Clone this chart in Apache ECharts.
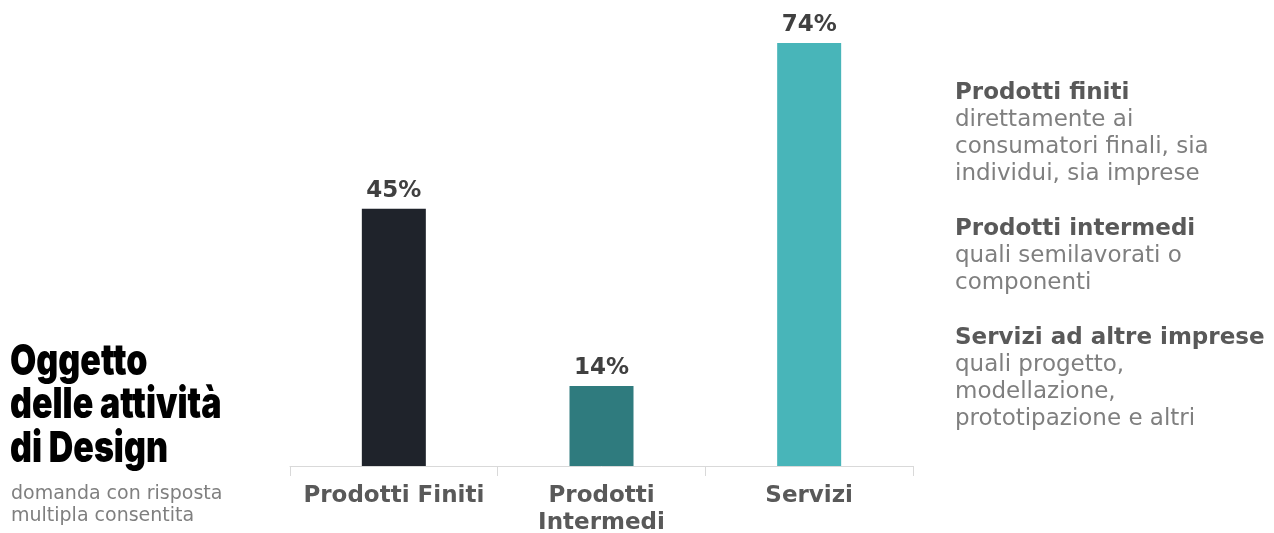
<!DOCTYPE html>
<html>
<head>
<meta charset="utf-8">
<script src="https://cdn.jsdelivr.net/npm/echarts@6/dist/echarts.min.js"></script>
<style>
  html, body { margin: 0; padding: 0; background: #fff; }
  #chart { width: 1274px; height: 533px; }
</style>
</head>
<body>
<div id="chart"></div>
<script>
// dati
var categorie = ['Prodotti Finiti', 'Prodotti\nIntermedi', 'Servizi'];
var valori = [45, 14, 74];
var colori = ['#1f232b', '#2f7b7e', '#48b5b9'];

// testi a destra
var note = [
  ['Prodotti finiti', 'direttamente ai', 'consumatori finali, sia', 'individui, sia imprese'],
  ['Prodotti intermedi', 'quali semilavorati o', 'componenti'],
  ['Servizi ad altre imprese', 'quali progetto,', 'modellazione,', 'prototipazione e altri']
];
var titolo = ['Oggetto', 'delle attività', 'di Design'];
var sottotitolo = ['domanda con risposta', 'multipla consentita'];

var chart = echarts.init(document.getElementById('chart'));

var grafici = [];
// titolo a sinistra (condensato a mano)
titolo.forEach(function (t, i) {
  grafici.push({
    type: 'text', x: 10, y: 362 + i * 43.5, scaleX: 0.79,
    style: { text: t, fontFamily: 'Inter', fontWeight: 900, fontSize: 43, fill: '#000', verticalAlign: 'middle' }
  });
});
sottotitolo.forEach(function (t, i) {
  grafici.push({
    type: 'text', x: 11, y: 494 + i * 22,
    style: { text: t, fontFamily: 'DejaVu Sans', fontSize: 19, fill: '#7f7f7f', verticalAlign: 'middle' }
  });
});
// note a destra
var y = 93;
note.forEach(function (blocco) {
  blocco.forEach(function (riga, j) {
    grafici.push({
      type: 'text', x: 955, y: y,
      style: {
        text: riga, fontFamily: 'DejaVu Sans',
        fontSize: 23,
        fontWeight: j === 0 ? 'bold' : 'normal',
        fill: j === 0 ? '#595959' : '#7f7f7f',
        verticalAlign: 'middle'
      }
    });
    y += 27;
  });
  y += 28;
});

var option = {
  animation: false,
  grid: { left: 290, right: 361, top: 43, bottom: 67, outerBoundsMode: 'none' },
  xAxis: {
    type: 'category',
    data: categorie,
    axisLine: { lineStyle: { color: '#d9d9d9', width: 1 } },
    axisTick: { show: true, length: 10, lineStyle: { color: '#d9d9d9' } },
    axisLabel: {
      margin: 17, color: '#595959', fontFamily: 'DejaVu Sans', fontWeight: 'bold',
      fontSize: 23, lineHeight: 27, interval: 0
    }
  },
  yAxis: {
    type: 'value', min: 0, max: 74, show: false,
    splitLine: { show: false }
  },
  series: [{
    type: 'bar',
    barWidth: 64,
    data: valori.map(function (v, i) {
      return { value: v, itemStyle: { color: colori[i] } };
    }),
    label: {
      show: true, position: 'top', distance: 6, formatter: '{c}%',
      color: '#404040', fontFamily: 'DejaVu Sans', fontWeight: 'bold', fontSize: 23
    }
  }],
  graphic: grafici
};
chart.setOption(option);
</script>
</body>
</html>
